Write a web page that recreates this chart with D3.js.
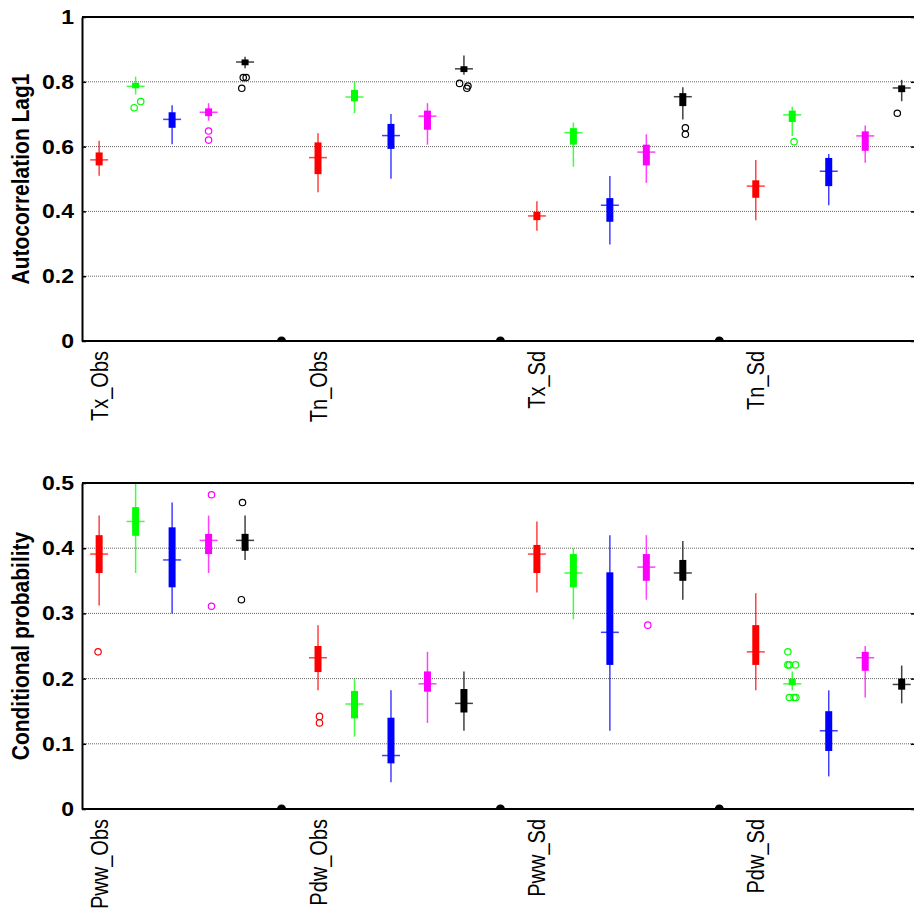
<!DOCTYPE html>
<html>
<head>
<meta charset="utf-8">
<script src="https://cdn.jsdelivr.net/npm/d3@7"></script>
<style>
  body { margin: 0; background: #fff; }
  svg { display: block; }
  text { font-family: "Liberation Sans", Arial, sans-serif; fill: #000; }
</style>
</head>
<body>
<div id="chart"></div>
<script>
// series order inside every group
const seriesColors = ['#ff0000', '#00ff00', '#0000ff', '#ff00ff', '#000000'];

// top panel: lag-1 autocorrelation
const topCats = ['Tx_Obs', 'Tn_Obs', 'Tx_Sd', 'Tn_Sd'];
const topTicks = [0, 0.2, 0.4, 0.6, 0.8, 1];
const topTickLabels = ['0', '0.2', '0.4', '0.6', '0.8', '1'];
// [whisker low, q1, median, q3, whisker high] per series
const topStats = [
  [[0.510, 0.542, 0.559, 0.582, 0.618], [0.761, 0.780, 0.786, 0.797, 0.816], [0.607, 0.658, 0.684, 0.706, 0.728], [0.680, 0.694, 0.706, 0.718, 0.734], [0.842, 0.851, 0.861, 0.869, 0.877]],
  [[0.459, 0.515, 0.566, 0.613, 0.641], [0.703, 0.740, 0.753, 0.775, 0.802], [0.501, 0.593, 0.634, 0.670, 0.701], [0.606, 0.652, 0.694, 0.711, 0.734], [0.822, 0.830, 0.840, 0.848, 0.881]],
  [[0.340, 0.373, 0.386, 0.399, 0.431], [0.538, 0.606, 0.643, 0.657, 0.674], [0.298, 0.368, 0.419, 0.441, 0.509], [0.488, 0.542, 0.583, 0.606, 0.638], [0.684, 0.725, 0.754, 0.765, 0.783]],
  [[0.373, 0.442, 0.478, 0.496, 0.559], [0.633, 0.676, 0.698, 0.711, 0.723], [0.419, 0.478, 0.524, 0.565, 0.577], [0.550, 0.587, 0.633, 0.647, 0.665], [0.740, 0.768, 0.781, 0.789, 0.806]]
];
// [group, series, value, jitter]
const topOutliers = [
  [0, 1, 0.720, -0.04], [0, 1, 0.739, 0.14],
  [0, 3, 0.648, 0], [0, 3, 0.620, 0],
  [0, 4, 0.813, -0.05], [0, 4, 0.813, 0.03], [0, 4, 0.780, -0.09],
  [1, 4, 0.795, -0.12], [1, 4, 0.787, 0.11], [1, 4, 0.780, 0.08],
  [2, 4, 0.658, 0.07], [2, 4, 0.638, 0.07],
  [3, 1, 0.615, 0.05],
  [3, 4, 0.703, -0.12]
];

// bottom panel: conditional probability
const botCats = ['Pww_Obs', 'Pdw_Obs', 'Pww_Sd', 'Pdw_Sd'];
const botTicks = [0, 0.1, 0.2, 0.3, 0.4, 0.5];
const botTickLabels = ['0', '0.1', '0.2', '0.3', '0.4', '0.5'];
const botStats = [
  [[0.312, 0.362, 0.391, 0.420, 0.450], [0.362, 0.419, 0.441, 0.463, 0.500], [0.300, 0.340, 0.382, 0.432, 0.470], [0.362, 0.391, 0.412, 0.422, 0.450], [0.382, 0.396, 0.412, 0.422, 0.450]],
  [[0.182, 0.210, 0.232, 0.250, 0.282], [0.111, 0.139, 0.161, 0.181, 0.200], [0.041, 0.070, 0.082, 0.140, 0.182], [0.132, 0.180, 0.192, 0.211, 0.241], [0.120, 0.148, 0.162, 0.184, 0.211]],
  [[0.332, 0.362, 0.391, 0.405, 0.441], [0.291, 0.340, 0.362, 0.391, 0.400], [0.120, 0.221, 0.271, 0.363, 0.420], [0.321, 0.350, 0.371, 0.391, 0.420], [0.321, 0.350, 0.362, 0.382, 0.411]],
  [[0.182, 0.221, 0.241, 0.282, 0.331], [0.182, 0.190, 0.192, 0.200, 0.211], [0.050, 0.089, 0.120, 0.150, 0.182], [0.171, 0.212, 0.232, 0.241, 0.250], [0.162, 0.183, 0.191, 0.200, 0.220]]
];
const botOutliers = [
  [0, 0, 0.241, -0.03],
  [0, 3, 0.482, 0.08], [0, 3, 0.311, 0.08],
  [0, 4, 0.470, -0.07], [0, 4, 0.321, -0.1],
  [1, 0, 0.142, 0.04], [1, 0, 0.132, 0.04],
  [2, 3, 0.282, 0.04],
  [3, 1, 0.241, -0.12],
  [3, 1, 0.221, -0.12], [3, 1, 0.221, -0.08], [3, 1, 0.221, 0.09],
  [3, 1, 0.171, -0.08], [3, 1, 0.171, 0.05], [3, 1, 0.171, 0.10]
];

const W = 914, H = 910;
const left = 82, right = 913;
const STRETCH = 1.15;   // the original figure is a bit wider than tall

const svg = d3.select('#chart').append('svg')
  .attr('width', W).attr('height', H);

// 5 boxes per group plus an empty (zero) column between groups
const x = d3.scaleLinear().domain([0.53, 23.31]).range([left, right]);
const pos = (g, s) => g * 6 + s + 1;

function drawPanel(opt) {
  const y = d3.scaleLinear().domain(opt.domain).range([opt.bottom, opt.top]);
  const g = svg.append('g');
  const clipId = 'clip' + opt.id;

  g.append('clipPath').attr('id', clipId)
    .append('rect')
    .attr('x', left).attr('y', opt.top)
    .attr('width', right - left).attr('height', opt.bottom - opt.top);

  // dotted grid
  g.append('g').selectAll('line')
    .data(opt.ticks.slice(1, -1))
    .join('line')
    .attr('x1', left).attr('x2', W)
    .attr('y1', d => y(d)).attr('y2', d => y(d))
    .attr('stroke', '#666').attr('stroke-width', 1)
    .attr('stroke-dasharray', '1,1');

  const plot = g.append('g');

  // separator columns hold zeros -> a dot sitting on the axis
  plot.append('g').attr('clip-path', `url(#${clipId})`)
    .selectAll('circle')
    .data([6, 12, 18])
    .join('circle')
    .attr('cx', d => x(d)).attr('cy', y(0))
    .attr('r', 4.5).attr('fill', '#000');

  const boxes = [];
  opt.stats.forEach((grp, gi) => grp.forEach((st, si) => boxes.push({ p: pos(gi, si), st, c: seriesColors[si] })));

  const bx = plot.append('g').selectAll('g')
    .data(boxes)
    .join('g');

  bx.append('line')
    .attr('x1', d => x(d.p)).attr('x2', d => x(d.p))
    .attr('y1', d => y(d.st[0])).attr('y2', d => y(d.st[4]))
    .attr('stroke', d => d.c).attr('stroke-width', 1.5)
    .attr('stroke-opacity', 0.75);

  bx.append('rect')
    .attr('x', d => x(d.p) - 3.5).attr('width', 7)
    .attr('y', d => y(d.st[3]))
    .attr('height', d => Math.max(1, y(d.st[1]) - y(d.st[3])))
    .attr('fill', d => d.c);

  bx.append('line')
    .attr('x1', d => x(d.p) - 9).attr('x2', d => x(d.p) + 9)
    .attr('y1', d => y(d.st[2])).attr('y2', d => y(d.st[2]))
    .attr('stroke', d => d.c).attr('stroke-width', 1.5)
    .attr('stroke-opacity', 0.75);

  plot.append('g').selectAll('circle')
    .data(opt.outliers)
    .join('circle')
    .attr('cx', d => x(pos(d[0], d[1]) + d[3]))
    .attr('cy', d => y(d[2]))
    .attr('r', 3.2)
    .attr('fill', 'none')
    .attr('stroke', d => seriesColors[d[1]])
    .attr('stroke-width', 1.2);

  // frame: left axis, right ticks, top and bottom lines
  const yAxis = g.append('g')
    .attr('transform', `translate(${left},0)`)
    .call(d3.axisLeft(y).tickValues(opt.ticks)
      .tickFormat((d, i) => opt.tickLabels[i])
      .tickSize(-4).tickSizeOuter(0).tickPadding(7));
  yAxis.select('.domain').attr('stroke-width', 2);
  yAxis.selectAll('.tick line').attr('stroke-width', 1.5);
  yAxis.selectAll('.tick text')
    .attr('font-size', 20).attr('font-weight', 'bold')
    .attr('transform', `scale(${STRETCH},1)`)
    .attr('x', -8 / STRETCH);

  const rAxis = g.append('g')
    .attr('transform', `translate(${right + 2},0)`)
    .call(d3.axisRight(y).tickValues(opt.ticks).tickFormat('')
      .tickSize(-4).tickSizeOuter(0));
  rAxis.select('.domain').remove();
  rAxis.selectAll('.tick line').attr('stroke-width', 1.5);

  g.append('line')
    .attr('x1', left).attr('x2', W)
    .attr('y1', opt.top).attr('y2', opt.top)
    .attr('stroke', '#000').attr('stroke-width', 2);

  const xAxis = g.append('g')
    .attr('transform', `translate(0,${opt.bottom})`)
    .call(d3.axisBottom(x).tickValues([1, 7, 13, 19])
      .tickFormat((d, i) => opt.cats[i])
      .tickSize(0).tickSizeOuter(0));
  xAxis.select('.domain').attr('d', `M${left},0H${W}`).attr('stroke-width', 2);
  xAxis.selectAll('.tick text')
    .attr('font-size', 20)
    .attr('text-anchor', 'end')
    .attr('transform', `scale(${STRETCH},1) rotate(-90)`)
    .attr('x', -10).attr('y', 0).attr('dy', '0.35em');

  g.append('text')
    .attr('transform', `translate(21,${(opt.top + opt.bottom) / 2}) scale(${STRETCH},1) rotate(-90)`)
    .attr('text-anchor', 'middle').attr('dy', '0.35em')
    .attr('font-size', 21).attr('font-weight', 'bold')
    .text(opt.label);
}

drawPanel({
  id: 'top', top: 17, bottom: 341, domain: [0, 1],
  ticks: topTicks, tickLabels: topTickLabels,
  cats: topCats, stats: topStats, outliers: topOutliers,
  label: 'Autocorrelation Lag1'
});

drawPanel({
  id: 'bot', top: 483, bottom: 809, domain: [0, 0.5],
  ticks: botTicks, tickLabels: botTickLabels,
  cats: botCats, stats: botStats, outliers: botOutliers,
  label: 'Conditional probability'
});
</script>
</body>
</html>
